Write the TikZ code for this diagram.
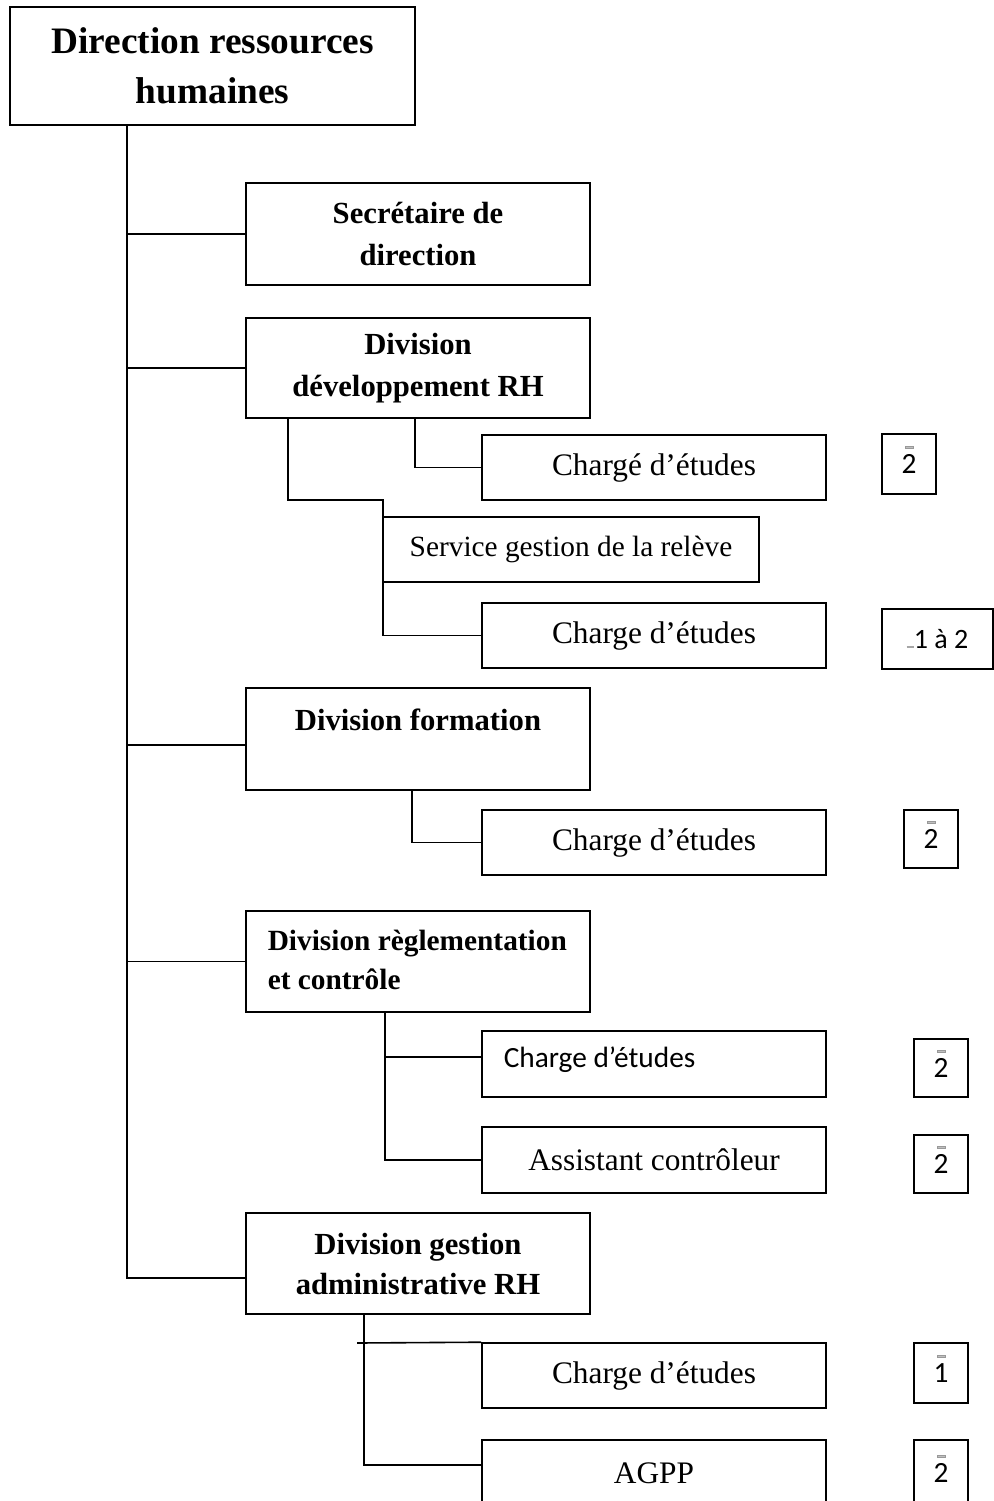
\documentclass[tikz,border=0pt]{standalone}
\usepackage{fontspec}
\setmainfont{Liberation Serif}
\newfontfamily\calib{Carlito}
\begin{document}
\begin{tikzpicture}[x=0.75pt,y=-0.75pt, line width=1.2pt,
  box/.style={draw, rectangle, inner sep=0pt, align=center},
  wbox/.style={box, minimum width=258pt},
  hd/.style={font=\bfseries\fontsize{23}{31.5}\selectfont},
  rg/.style={font=\fontsize{23.5}{28}\selectfont},
  cnt/.style={draw, inner sep=0pt, minimum width=40.5pt, minimum height=43.5pt, font=\calib\fontsize{22}{24}\selectfont},
  tinymark/.style={draw=gray!80, line width=0.4pt, fill=gray!50}]
\useasboundingbox (0,0) rectangle (994,1501);
\clip (0,0) rectangle (994,1501);

% boxes
\node[box, minimum width=303.75pt, minimum height=88.5pt, font=\bfseries\fontsize{28}{37.5}\selectfont] (top) at (212.5,66) {Direction ressources\\humaines};
\node[wbox, hd, minimum height=76.5pt] (sec) at (418,234) {Secrétaire de\\direction};
\node[wbox, hd, minimum height=75pt] (dev) at (418,368) {Division\\développement RH};
\node[wbox, rg, minimum height=48.75pt] (ce1) at (654,467.5) {Chargé d’études};
\node[cnt, minimum height=45pt] (n1) at (909,464) {\raisebox{-3pt}{2}};
\node[box, font=\fontsize{22}{26}\selectfont, minimum width=282pt, minimum height=48.75pt] (serv) at (571,549.5) {Service gestion de la relève};
\node[wbox, rg, minimum height=48.75pt] (ce2) at (654,635.5) {Charge d’études};
\node[cnt, minimum width=83.25pt, minimum height=45pt, font=\calib\fontsize{21}{24}\selectfont] (n2) at (937.5,639) {\textcolor{gray!70}{\rule{5.5pt}{1.8pt}}1 à 2};
\node[wbox, minimum height=76.5pt] (form) at (418,739) {};
\node[hd] (formt) at (418,720) {Division formation};
\node[wbox, rg, minimum height=48.75pt] (ce3) at (654,842.5) {Charge d’études};
\node[cnt] (n3) at (931,839) {\raisebox{-3pt}{2}};
\node[wbox, minimum height=75.75pt] (regl) at (418,961.5) {};
\node[anchor=west, align=left, inner sep=0pt, font=\bfseries\fontsize{22}{29.25}\selectfont] (reglt) at (267,959.5) {Division règlementation\\et contrôle};
\node[wbox, minimum height=49.5pt] (ce4) at (654,1064) {};
\node[anchor=west, inner sep=0pt, font=\calib\fontsize{22}{26}\selectfont] (ce4t) at (503,1060) {Charge d’études};
\node[cnt] (n4) at (941,1068) {\raisebox{-3pt}{2}};
\node[wbox, rg, minimum height=49.5pt] (asst) at (654,1160) {Assistant contrôleur};
\node[cnt] (n5) at (941,1164) {\raisebox{-3pt}{2}};
\node[wbox, font=\bfseries\fontsize{23}{30}\selectfont, minimum height=75.75pt] (adm) at (418,1263.5) {Division gestion\\administrative RH};
\node[wbox, rg, minimum height=48.75pt] (ce5) at (654,1375.5) {Charge d’études};
\node[cnt, minimum height=45pt] (n6) at (941,1373) {\raisebox{-3pt}{1}};
\node[wbox, rg, minimum height=49.5pt] (agpp) at (654,1473) {AGPP};
\node[cnt, minimum height=49.5pt] (n7) at (941,1473) {\raisebox{-3pt}{2}};

\foreach \n in {n1,n3,n4,n5,n6,n7}
  \draw[tinymark] ([xshift=-3pt,yshift=11.5pt]\n.center) rectangle ++(6pt,2pt);

% connectors
\coordinate (trunk) at (127,0);
\coordinate (formc) at ([yshift=-4.5pt]form.west);
\coordinate (admc) at ([yshift=-10.9pt]adm.west);
\draw (top.south -| trunk) -- (admc -| trunk) -- (admc);
\draw (sec.west -| trunk) -- (sec.west);
\draw (dev.west -| trunk) -- (dev.west);
\draw (formc -| trunk) -- (formc);
\draw (regl.west -| trunk) -- (regl.west);

\coordinate (d1) at (415,418);
\draw (d1) |- (ce1.west);
\coordinate (d2) at (288,418);
\coordinate (j1) at (383,500);
\draw (d2) |- (j1) -- (j1 |- ce2.west) -- (ce2.west);
\coordinate (f1) at (412,790);
\draw (f1) |- (ce3.west);
\coordinate (r1) at (385,1012);
\draw (r1) |- (asst.west);
\coordinate (ce4c) at ([yshift=5.25pt]ce4.west);
\draw (r1 |- ce4c) -- (ce4c);
\coordinate (a1) at (364,1314);
\coordinate (agc) at ([yshift=6pt]agpp.west);
\draw (a1) |- (agc);
\coordinate (a2) at (357,1343);
\draw (a2) -- (ce5.north west);
\end{tikzpicture}
\end{document}
